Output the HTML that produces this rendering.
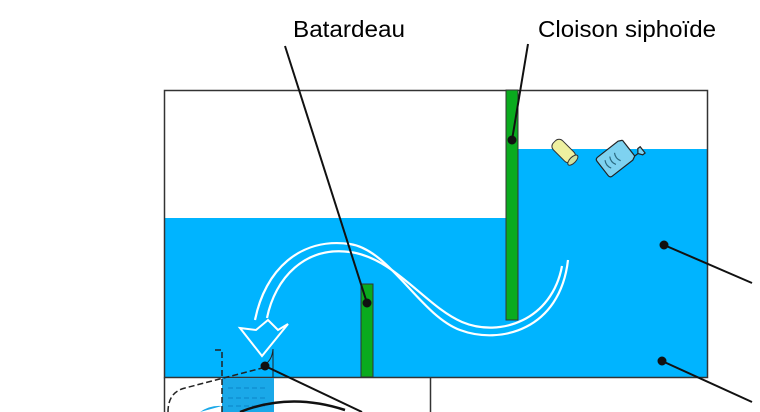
<!DOCTYPE html>
<html><head><meta charset="utf-8"><style>
html,body{margin:0;padding:0;background:#fff;width:760px;height:412px;overflow:hidden}
svg{display:block}
text{font-family:"Liberation Sans",sans-serif;font-size:23px;fill:#000}
</style></head><body>
<svg width="760" height="412" viewBox="0 0 760 412" xmlns="http://www.w3.org/2000/svg">
<rect x="165" y="218" width="342" height="159" fill="#00b4ff"/>
<rect x="507" y="149" width="200" height="228" fill="#00b4ff"/>
<rect x="164.5" y="90.5" width="543" height="287" fill="none" stroke="#333" stroke-width="1.5"/>
<path d="M164.5 377.5 V412 M430.5 377.5 V412" stroke="#333" stroke-width="1.5"/>
<rect x="506" y="90" width="12" height="230" fill="#0aab1e" stroke="#333" stroke-width="1"/>
<rect x="361" y="284" width="12" height="93" fill="#0aab1e" stroke="#333" stroke-width="1"/>
<rect x="222" y="378" width="52" height="34" fill="#1aa8e8"/>
<path d="M228 388h40M228 398h40M228 406h40" stroke="#0a84c8" stroke-dasharray="5 3" stroke-width="1"/>
<path d="M215 350h7v62" fill="none" stroke="#222" stroke-dasharray="6 3" stroke-width="1.5"/>
<path d="M168 412 Q168 392 185 388 L270 366" fill="none" stroke="#222" stroke-dasharray="6 3" stroke-width="1.5"/>
<path d="M262 366 Q272 362 273 349 V377" fill="#00b4ff" stroke="#222" stroke-width="1"/>
<path d="M200 412 Q210 405 222 406" fill="#1aa8e8" stroke="none"/>
<path d="M240 412 Q290 392 345 410" fill="none" stroke="#111" stroke-width="2.5"/>
<g fill="none" stroke="#fff" stroke-width="2.2">
<path d="M568 260 C560 330 500 345 460 330 C420 315 390 250 350 244 C300 237 265 270 255 320"/>
<path d="M562 266 C552 320 500 338 462 322 C425 306 395 258 350 252 C305 246 275 278 267 318"/>
<path d="M240 328 L256 330 L268 320 L278 330 L288 324 L262 356 Z" stroke-width="2"/>
</g>
<g transform="translate(564 152) rotate(-45)">
<rect x="-6" y="-14" width="13" height="26" rx="5" fill="#eef0a0" stroke="#333" stroke-width="1"/>
<ellipse cx="0.5" cy="12" rx="6.5" ry="3" fill="#cfe1a0" stroke="#333" stroke-width="1"/>
</g>
<g transform="translate(616 158) rotate(52)">
<path d="M-10 -16 h20 v-4 l4 -3 v-3 h-8 v3 l4 3 v4 M-10 -16 l-2 4 v26 q0 3 3 3 h18 q3 0 3 -3 v-26 l-2 -4" fill="#7ed2f0" stroke="#222" stroke-width="1.2"/>
<path d="M-5 -2q5 3 10 0M-5 4q5 3 10 0M-5 10q5 3 10 0" fill="none" stroke="#2a6a80" stroke-width="1.2"/>
</g>
<text x="293" y="37" textLength="112" lengthAdjust="spacingAndGlyphs">Batardeau</text>
<text x="538" y="37" textLength="178" lengthAdjust="spacingAndGlyphs">Cloison siphoïde</text>
<g stroke="#111" stroke-width="2" fill="#111">
<line x1="285" y1="46" x2="367" y2="303"/><circle cx="367" cy="303" r="3.5"/>
<line x1="528" y1="44" x2="512" y2="140"/><circle cx="512" cy="140" r="3.5"/>
<line x1="664" y1="245" x2="752" y2="283"/><circle cx="664" cy="245" r="3.5"/>
<line x1="662" y1="361" x2="752" y2="402"/><circle cx="662" cy="361" r="3.5"/>
<line x1="265" y1="366" x2="362" y2="412"/><circle cx="265" cy="366" r="3.5"/>
</g>
</svg>
</body></html>
